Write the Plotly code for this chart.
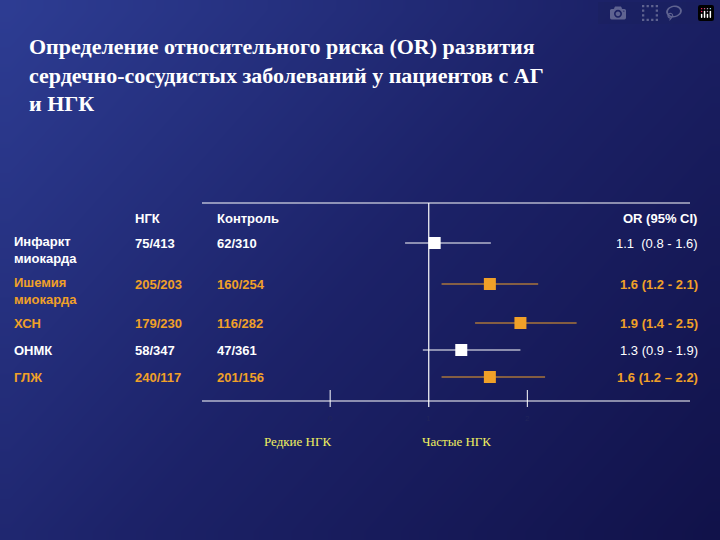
import plotly.graph_objects as go

# data
rows = ["Инфаркт<br>миокарда", "Ишемия<br>миокарда", "ХСН", "ОНМК", "ГЛЖ"]
ngk = ["75/413", "205/203", "179/230", "58/347", "240/117"]
control = ["62/310", "160/254", "116/282", "47/361", "201/156"]
odds = [1.06, 1.62, 1.93, 1.33, 1.62]
ci_low = [0.76, 1.13, 1.47, 0.94, 1.13]
ci_high = [1.63, 2.11, 2.5, 1.93, 2.18]
or_text = ["1.1  (0.8 - 1.6)", "1.6 (1.2 - 2.1)", "1.9 (1.4 - 2.5)",
           "1.3 (0.9 - 1.9)", "1.6 (1.2 – 2.2)"]
significant = [False, True, True, False, True]
tick_vals = [0, 1, 2]

# layout (pixel rows, y axis runs 0..540 top-down)
row_y = [243, 284, 323, 350, 377]
label_y = [250, 291, 323, 350, 377]
WHITE = "#ffffff"
ORANGE = "#f0a028"

fig = go.Figure()

# background gradient (drawn on the first subplot so it sits underneath)
nx, ny = 40, 30
z = [[(1 - i / (nx - 1)) * 0.6 + (j / (ny - 1)) * 0.4 for i in range(nx)] for j in range(ny)]
fig.add_trace(go.Heatmap(z=z, xaxis="x", yaxis="y", showscale=False, hoverinfo="skip",
                         colorscale=[[0, "#11124a"], [0.5, "#1c2268"], [1, "#2d3c92"]],
                         zsmooth="best"))

for i in range(len(rows)):
    col = ORANGE if significant[i] else WHITE
    fig.add_trace(go.Scatter(x=[ci_low[i], ci_high[i]], y=[row_y[i]] * 2, mode="lines",
                             xaxis="x2", yaxis="y2",
                             line=dict(color=col, width=1), hoverinfo="skip"))
    fig.add_trace(go.Scatter(x=[odds[i]], y=[row_y[i]], mode="markers",
                             xaxis="x2", yaxis="y2",
                             marker=dict(symbol="square", size=12, color=col,
                                         line=dict(width=0)), hoverinfo="skip"))

# frame lines
for yy in (203, 401):
    fig.add_shape(type="line", xref="paper", yref="y2", x0=202 / 720, x1=690 / 720,
                  y0=yy, y1=yy, line=dict(color=WHITE, width=1.2))
fig.add_shape(type="line", xref="x2", yref="y2", x0=1, x1=1, y0=203, y1=407,
              line=dict(color=WHITE, width=1.2))
for t in (0, 2):
    fig.add_shape(type="line", xref="x2", yref="y2", x0=t, x1=t, y0=390, y1=407,
                  line=dict(color=WHITE, width=1))

fig.update_layout(
    width=720, height=540, margin=dict(l=0, r=0, t=0, b=0), showlegend=False,
    paper_bgcolor="#1a1f5e", plot_bgcolor="rgba(0,0,0,0)",
    xaxis=dict(domain=[0, 1], visible=False, range=[-0.5, nx - 0.5], fixedrange=True),
    yaxis=dict(domain=[0, 1], visible=False, range=[-0.5, ny - 0.5], fixedrange=True),
    xaxis2=dict(domain=[202 / 720, 690 / 720], range=[-1.3, 3.65], showgrid=False,
                zeroline=False, showticklabels=False, fixedrange=True, anchor="y2"),
    yaxis2=dict(domain=[0, 1], range=[540, 0], showgrid=False, zeroline=False,
                showticklabels=False, fixedrange=True, anchor="x2"),
)

title = ("<b>Определение относительного риска (OR) развития<br>"
         "сердечно-сосудистых заболеваний у пациентов с АГ<br>и НГК</b>")
fig.add_annotation(text=title, xref="paper", yref="y2", x=27 / 720, y=32, xanchor="left",
                   yanchor="top", align="left", showarrow=False,
                   font=dict(family="Liberation Serif", size=22, color=WHITE))

sans = "Liberation Sans"
hdr = dict(family=sans, size=13, color=WHITE)
fig.add_annotation(text="<b>НГК</b>", xref="paper", yref="y2", x=133 / 720, y=218,
                   showarrow=False, font=hdr)
fig.add_annotation(text="<b>Контроль</b>", xref="paper", yref="y2", x=215 / 720, y=218,
                   showarrow=False, font=hdr)
fig.add_annotation(text="<b>OR (95% CI)</b>", xref="paper", yref="y2", x=699 / 720, y=218,
                   xanchor="right", showarrow=False, font=hdr)

for i in range(len(rows)):
    col = ORANGE if significant[i] else WHITE
    f = dict(family=sans, size=13, color=col)
    fig.add_annotation(text="<b>" + rows[i] + "</b>", xref="paper", yref="y2", x=12 / 720,
                       y=label_y[i], xanchor="left", align="left", showarrow=False, font=f)
    fig.add_annotation(text="<b>" + ngk[i] + "</b>", xref="paper", yref="y2", x=133 / 720,
                       y=row_y[i], showarrow=False, font=f)
    fig.add_annotation(text="<b>" + control[i] + "</b>", xref="paper", yref="y2", x=215 / 720,
                       y=row_y[i], showarrow=False, font=f)
    txt = "<b>" + or_text[i] + "</b>" if significant[i] else or_text[i]
    fig.add_annotation(text=txt, xref="paper", yref="y2", x=700 / 720, y=row_y[i],
                       xanchor="right", showarrow=False, font=f)

for t in tick_vals:
    fig.add_annotation(text=str(t), xref="x2", yref="y2", x=t, y=418, showarrow=False,
                       font=dict(family=sans, size=8, color="#20245a"))

serif_y = dict(family="Liberation Serif", size=13, color="#f0f060")
fig.add_annotation(text="Редкие НГК", xref="paper", yref="y2", x=297 / 720, y=441,
                   showarrow=False, font=serif_y)
fig.add_annotation(text="Частые НГК", xref="paper", yref="y2", x=493 / 720, y=441,
                   showarrow=False, font=serif_y)

fig.write_html("out.html", post_script="document.body.style.margin='0';")
